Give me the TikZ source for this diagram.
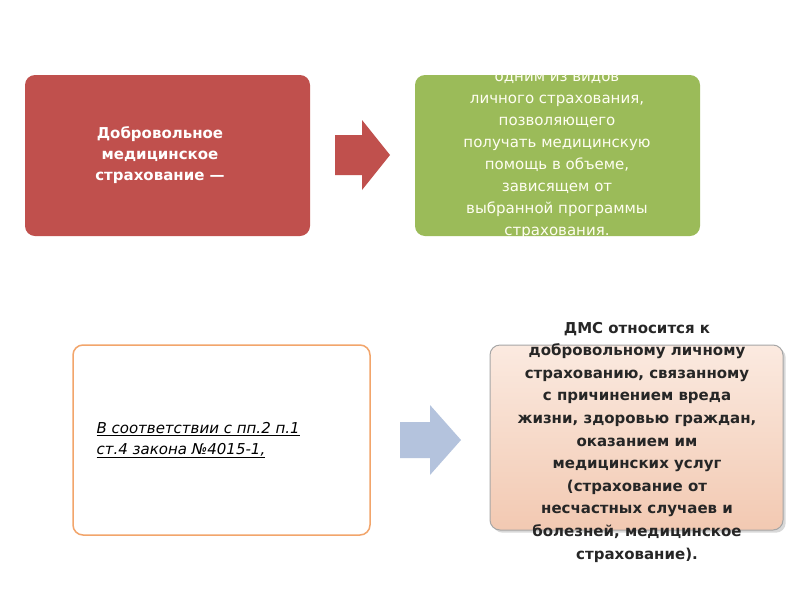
\documentclass[tikz,border=0pt]{standalone}
\usepackage{fontspec}
\setmainfont{DejaVu Sans}
\usetikzlibrary{shadows}
\definecolor{redbox}{HTML}{C0504D}
\definecolor{greenbox}{HTML}{9BBB59}
\definecolor{orangeline}{HTML}{F2A56B}
\definecolor{bluearrow}{HTML}{B4C3DD}
\definecolor{peach1}{HTML}{FBEAE0}
\definecolor{peach2}{HTML}{F2C9B2}
\begin{document}
\begin{tikzpicture}[x=1pt,y=-1pt,
  box/.style={rounded corners=10pt,inner sep=0pt},
  txt/.style={align=center,font=\fontsize{15}{22}\selectfont}]
\useasboundingbox (0,0) rectangle (800,600);
\fill[white] (0,0) rectangle (800,600);
% red box
\node[box,fill=redbox,minimum width=285pt,minimum height=161pt] (r) at (167.5,155.5) {};
\node[txt,text=white,font=\bfseries\fontsize{15}{21}\selectfont] (rt) at (160,155) {Добровольное\\медицинское\\страхование —};
% red arrow
\fill[redbox] (335,135) -- (362,135) -- (362,120) -- (390,155) -- (362,190) -- (362,175) -- (335,175) -- cycle;
% green box
\node[box,fill=greenbox,minimum width=285pt,minimum height=161pt] (g) at (557.5,155.5) {};
\begin{scope}
\clip (400,74) rectangle (720,236);
\node[txt,text=white!95!yellow] (gt) at (557,156) {одним из видов\\личного страхования,\\позволяющего\\получать медицинскую\\помощь в объеме,\\зависящем от\\выбранной программы\\страхования.};
\end{scope}
% bottom left
\node[box,draw=orangeline,line width=1.5pt,fill=white,minimum width=297pt,minimum height=190pt] (bl) at (221.5,440) {};
\node[txt,anchor=west,align=left,font=\itshape\fontsize{15}{21}\selectfont] (blt) at (93,440) {\underline{В соответствии с пп.2 п.1}\\\underline{ст.4 закона №4015-1,}};
% blue arrow
\fill[bluearrow] (400,422) -- (430,422) -- (430,405) -- (461,440) -- (430,475) -- (430,458) -- (400,458) -- cycle;
% bottom right
\node[box,draw=black!35,line width=1pt,top color=peach1,bottom color=peach2,drop shadow={opacity=0.3},minimum width=293pt,minimum height=185pt] (br) at (636.5,437.5) {};
\node[txt,text=black!85,font=\bfseries\fontsize{15}{22.6}\selectfont] (brt) at (637,442) {ДМС относится к\\добровольному личному\\страхованию, связанному\\с причинением вреда\\жизни, здоровью граждан,\\оказанием им\\медицинских услуг\\(страхование от\\несчастных случаев и\\болезней, медицинское\\страхование).};
\end{tikzpicture}
\end{document}
